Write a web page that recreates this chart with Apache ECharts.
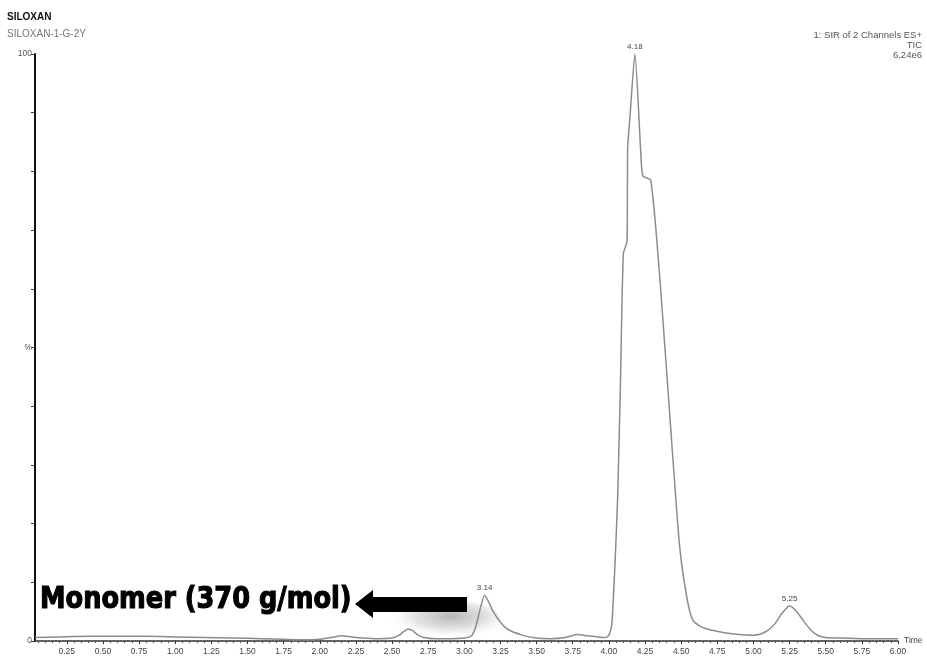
<!DOCTYPE html>
<html>
<head>
<meta charset="utf-8">
<script src="https://cdn.jsdelivr.net/npm/echarts@6/dist/echarts.min.js"></script>
<style>
html,body{margin:0;padding:0;background:#fff;}
#c{width:927px;height:659px;}
</style>
</head>
<body>
<div id="c"></div>
<script>
// Retention time (min)
const times = [0.03,0.2,0.4,0.6,0.8,1.0,1.2,1.4,1.6,1.75,1.9,2.0,2.08,2.15,2.22,2.3,2.4,2.5,2.55,2.58,2.61,2.64,2.68,2.72,2.8,2.9,3.0,3.05,3.08,3.11,3.14,3.17,3.2,3.25,3.3,3.4,3.5,3.6,3.7,3.78,3.85,3.92,3.98,4.0,4.02,4.04,4.06,4.08,4.10,4.125,4.13,4.145,4.18,4.22,4.235,4.29,4.355,4.44,4.49,4.54,4.58,4.64,4.7,4.8,4.9,5.0,5.05,5.1,5.15,5.2,5.25,5.3,5.35,5.4,5.45,5.5,5.6,5.75,5.9,6.0];
// Relative intensity (%)
const intensity = [0.6,0.7,0.8,0.8,0.8,0.7,0.6,0.5,0.4,0.3,0.2,0.3,0.6,0.9,0.7,0.5,0.4,0.5,1.0,1.6,2.0,1.8,1.0,0.6,0.4,0.4,0.5,0.9,2.5,5.5,7.8,6.6,5.0,3.2,2.0,1.0,0.5,0.4,0.6,1.1,0.9,0.7,0.6,1.0,2.8,12,24,44,66,68,84,89,100,83.5,79.2,78.5,61,32,16,7.3,3.6,2.4,1.9,1.4,1.1,1.0,1.2,1.8,3.0,4.8,6.0,5.0,3.3,1.8,0.9,0.6,0.5,0.4,0.4,0.4];
// Labelled peaks
const peakTimes = [3.14, 4.18, 5.25];
const peakValues = [7.8, 100, 6.0];
const peakLabels = ['3.14', '4.18', '5.25'];
// Tick labels
const xTickLabels = ['0.25','0.50','0.75','1.00','1.25','1.50','1.75','2.00','2.25','2.50','2.75','3.00','3.25','3.50','3.75','4.00','4.25','4.50','4.75','5.00','5.25','5.50','5.75','6.00'];
const yTickLabels = {0:'0', 50:'%', 100:'100'};

const xMin = 0.03, xMax = 6.0;
const majorVals = xTickLabels.map(Number);
const minorVals = [];
for (let i = 1; i <= 120; i++) {
  const v = +(i * 0.05).toFixed(2);
  if (Math.abs(v / 0.25 - Math.round(v / 0.25)) > 1e-6) minorVals.push(v);
}

const chart = echarts.init(document.getElementById('c'), null, {renderer: 'canvas'});
const font = 'Liberation Sans, Arial, sans-serif';

chart.setOption({
  animation: false,
  backgroundColor: '#fff',
  grid: {left: 35, right: 29, top: 54, bottom: 18},
  xAxis: [{
    type: 'value', min: xMin, max: xMax,
    name: 'Time', nameLocation: 'end', nameGap: 6,
    nameTextStyle: {fontSize: 8.5, color: '#444', fontFamily: font, padding: [8, 0, 0, 0]},
    axisLine: {show: true, lineStyle: {color: '#333', width: 1.5}},
    axisTick: {show: true, length: 3, customValues: majorVals, lineStyle: {color: '#333'}},
    axisLabel: {show: true, customValues: majorVals, fontSize: 8.5, color: '#444', fontFamily: font, margin: 6,
      formatter: v => v.toFixed(2)},
    splitLine: {show: false}
  }, {
    type: 'value', min: xMin, max: xMax, position: 'bottom', offset: 0,
    axisLine: {show: false},
    axisTick: {show: true, length: 2, customValues: minorVals, lineStyle: {color: '#555'}},
    axisLabel: {show: false},
    splitLine: {show: false}
  }],
  yAxis: {
    type: 'value', min: 0, max: 100, interval: 10,
    axisLine: {show: true, lineStyle: {color: '#111', width: 2}},
    axisTick: {show: true, length: 4, lineStyle: {color: '#333'}},
    axisLabel: {show: true, fontSize: 8.5, color: '#555', fontFamily: font, margin: 3,
      formatter: v => (yTickLabels[v] !== undefined ? yTickLabels[v] : '')},
    splitLine: {show: false}
  },
  graphic: [
    {type: 'text', left: 7, top: 12, z: 10, style: {text: 'SILOXAN', font: 'bold 10px ' + font, fill: '#111'}},
    {type: 'text', left: 7, top: 29, z: 10, style: {text: 'SILOXAN-1-G-2Y', font: '10px ' + font, fill: '#777'}},
    {type: 'text', right: 5, top: 30, z: 10, style: {text: '1: SIR of 2 Channels ES+', font: '9.5px ' + font, fill: '#555', align: 'right'}},
    {type: 'text', right: 5, top: 40, z: 10, style: {text: 'TIC', font: '9.5px ' + font, fill: '#555', align: 'right'}},
    {type: 'text', right: 5, top: 50, z: 10, style: {text: '6.24e6', font: '9.5px ' + font, fill: '#555', align: 'right'}},
    {type: 'circle', z: 0, x: 435, y: 620, scaleX: 2.2, scaleY: 0.75, shape: {cx: 0, cy: 0, r: 30},
      style: {fill: {type: 'radial', x: 0.62, y: 0.42, r: 0.5,
        colorStops: [{offset: 0, color: 'rgba(110,110,110,0.5)'}, {offset: 0.55, color: 'rgba(150,150,150,0.28)'}, {offset: 1, color: 'rgba(255,255,255,0)'}]}}},
    {type: 'text', z: 10, x: 40, y: 585, scaleX: 0.855, scaleY: 1.02,
      style: {text: 'Monomer (370 g/mol)', font: 'bold 30px DejaVu Sans, sans-serif', fill: '#000', stroke: '#000', lineWidth: 1.2}},
    {type: 'polygon', z: 10, shape: {points: [[355,604],[373,590],[373,597],[467,597],[467,612],[373,612],[373,618]]},
      style: {fill: '#000'}}
  ],
  series: [{
    type: 'line',
    xAxisIndex: 0,
    data: times.map((t, i) => [t, intensity[i]]),
    showSymbol: false,
    smooth: 0.2,
    lineStyle: {color: '#8c8c8c', width: 1.5},
    z: 3,
    markPoint: {
      symbol: 'circle', symbolSize: 0,
      label: {show: true, position: 'top', distance: 3, fontSize: 8, color: '#444', fontFamily: font,
        formatter: p => p.name},
      data: peakTimes.map((t, i) => ({name: peakLabels[i], coord: [t, peakValues[i]]}))
    }
  }]
});
</script>
</body>
</html>
